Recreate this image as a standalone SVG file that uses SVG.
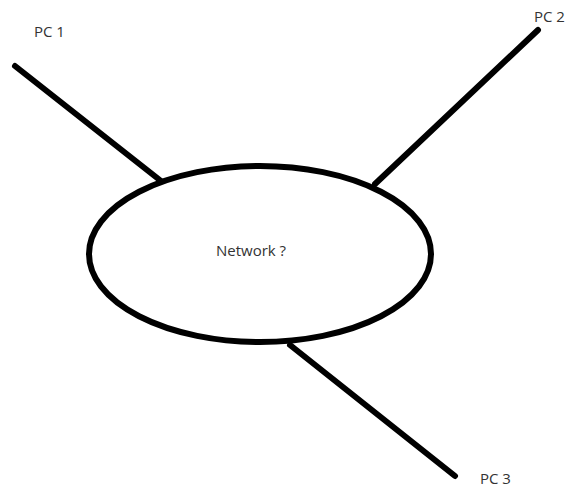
<svg xmlns="http://www.w3.org/2000/svg" width="573" height="488" viewBox="0 0 573 488">
<style>
.ln{stroke:#000;stroke-width:6;stroke-linecap:round;fill:none}
.t{font-family:"Open Sans","Liberation Sans",sans-serif;font-size:15px;fill:#333}
</style>
<rect width="573" height="488" fill="#fff"/>
<g id="connectors">
<line class="ln" x1="15" y1="66" x2="161" y2="181"/>
<line class="ln" x1="538" y1="30" x2="375" y2="184"/>
<line class="ln" x1="290" y1="345" x2="455" y2="476"/>
</g>
<g id="network">
<ellipse class="ln" cx="260" cy="254" rx="171" ry="88"/>
<text class="t" x="216" y="256">Network ?</text>
</g>
<g id="pc1"><text class="t" x="34" y="37">PC 1</text></g>
<g id="pc2"><text class="t" x="534" y="22">PC 2</text></g>
<g id="pc3"><text class="t" x="480" y="484">PC 3</text></g>
</svg>
